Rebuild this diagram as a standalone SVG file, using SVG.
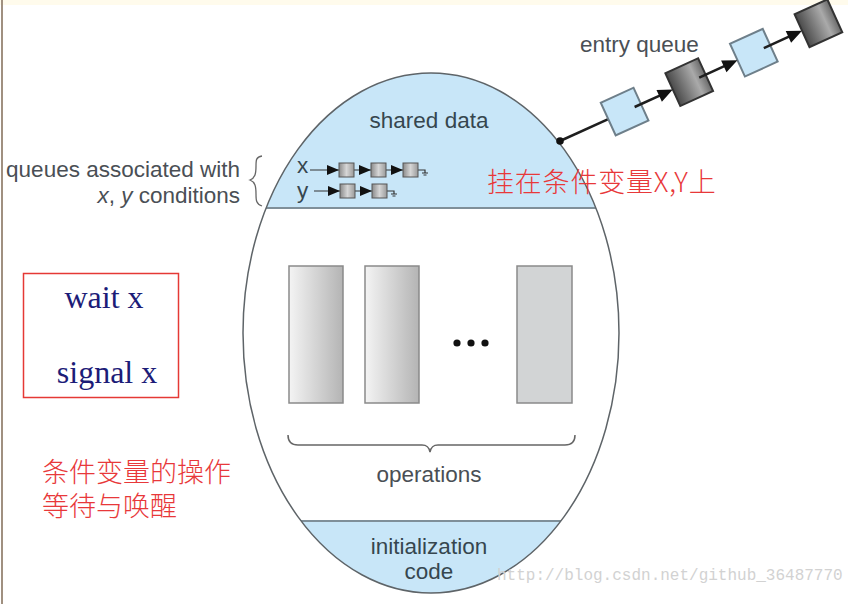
<svg xmlns="http://www.w3.org/2000/svg" width="848" height="604" viewBox="0 0 848 604">
<style>
.lbl{font-family:"Liberation Sans",Arial,sans-serif;font-size:22.5px;fill:#4a4f55}
.dk{fill:#36464f}
.red{font-family:"Noto Sans CJK SC",sans-serif;font-size:27px;font-weight:300;fill:#e8383a}
.ser{font-family:"Liberation Serif","Times New Roman",serif;font-size:32px;fill:#1c1c78}
.lq{fill:#c8e6f8;stroke:#6e7f8a;stroke-width:2}
.dq{fill:url(#gdark);stroke:#333;stroke-width:2}
.ln{stroke:#1e1e1e;stroke-width:2.5;fill:none}
.sq{fill:url(#gsmall);stroke:#555;stroke-width:1}
.sl{stroke:#333;stroke-width:1.2;fill:none}
.ah{fill:#111}
.op{stroke:#8a8a8a;stroke-width:1.5}
</style>
<defs>
<linearGradient id="gdark" x1="0" y1="0" x2="1" y2="0">
<stop offset="0" stop-color="#4a4a4a"/><stop offset="0.7" stop-color="#aaaaaa"/><stop offset="1" stop-color="#6a6a6a"/>
</linearGradient>
<linearGradient id="gsmall" x1="0" y1="0" x2="1" y2="0">
<stop offset="0" stop-color="#8a8a8a"/><stop offset="0.5" stop-color="#d6d6d6"/><stop offset="1" stop-color="#9a9a9a"/>
</linearGradient>
<linearGradient id="grect" x1="0" y1="0" x2="1" y2="0">
<stop offset="0" stop-color="#f4f4f4"/><stop offset="1" stop-color="#b4b4b4"/>
</linearGradient>
<clipPath id="egg"><ellipse cx="431" cy="333" rx="188" ry="260"/></clipPath>
</defs>
<rect x="0" y="0" width="848" height="604" fill="#ffffff"/>
<rect x="0" y="0" width="848" height="5" fill="#fffbec"/>
<line x1="2" y1="0" x2="2" y2="604" stroke="#a09080" stroke-width="2"/>

<g id="monitor">
<ellipse cx="431" cy="333" rx="188" ry="260" fill="#ffffff"/>
<g clip-path="url(#egg)">
<rect x="230" y="60" width="400" height="148" fill="#c8e6f8"/>
<rect x="230" y="521" width="400" height="90" fill="#c8e6f8"/>
<line x1="230" y1="208" x2="630" y2="208" stroke="#7f8f99" stroke-width="2"/>
<line x1="230" y1="521" x2="630" y2="521" stroke="#7f8f99" stroke-width="2"/>
</g>
<ellipse cx="431" cy="333" rx="188" ry="260" fill="none" stroke="#5e6468" stroke-width="1.5"/>
</g>

<g id="shared-data">
<text class="lbl dk" x="429" y="128" text-anchor="middle">shared data</text>
</g>

<g id="condition-queues">
<text class="lbl dk" x="297" y="173" font-size="21">x</text>
<text class="lbl dk" x="297" y="198" font-size="21">y</text>
<path class="sl" d="M310 170 H339 M354 170 H371 M386 170 H403 M418 170 H425 V173 M422 173 H428 M423.5 175 H426.5"/>
<path class="ah" d="M327 165 L339 170 L327 175 Z M359 165 L371 170 L359 175 Z M391 165 L403 170 L391 175 Z"/>
<rect class="sq" x="339" y="163" width="15" height="14"/>
<rect class="sq" x="371" y="163" width="15" height="14"/>
<rect class="sq" x="403" y="163" width="15" height="14"/>
<path class="sl" d="M314 191 H340 M355 191 H372 M387 191 H394 V194 M391 194 H397 M392.5 196 H395.5"/>
<path class="ah" d="M328 186 L340 191 L328 196 Z M360 186 L372 191 L360 196 Z"/>
<rect class="sq" x="340" y="184" width="15" height="14"/>
<rect class="sq" x="372" y="184" width="15" height="14"/>
</g>

<g id="queues-label">
<text class="lbl" x="240" y="177" text-anchor="end" font-size="22.8">queues associated with</text>
<text class="lbl" x="240" y="203" text-anchor="end" font-size="22.8"><tspan font-style="italic">x</tspan>, <tspan font-style="italic">y</tspan> conditions</text>
<path d="M262 156 C256 157 256 160 256 166 C256 174 255 178 250 180 C255 182 256 186 256 194 C256 200 256 204 262 206" fill="none" stroke="#666" stroke-width="1.3"/>
</g>

<g id="operations">
<rect class="op" x="289" y="266" width="54" height="137" fill="url(#grect)"/>
<rect class="op" x="365" y="266" width="54" height="137" fill="url(#grect)"/>
<rect class="op" x="517" y="266" width="55" height="137" fill="#d2d4d5"/>
<circle cx="457" cy="343" r="3.6" fill="#111"/>
<circle cx="471" cy="343" r="3.6" fill="#111"/>
<circle cx="485" cy="343" r="3.6" fill="#111"/>
<path d="M288 435 C288 442 291 445 298 445 H422 C427 445 429 447 430 452 C431 447 433 445 438 445 H565 C572 445 575 442 575 435" fill="none" stroke="#666" stroke-width="1.5"/>
<text class="lbl" x="429" y="482" text-anchor="middle" fill="#555">operations</text>
</g>

<g id="init-code">
<text class="lbl dk" x="429" y="554" text-anchor="middle">initialization</text>
<text class="lbl dk" x="429" y="579" text-anchor="middle">code</text>
</g>

<g id="entry-queue">
<text class="lbl" x="580" y="52" fill="#444">entry queue</text>
<g transform="translate(560,141) rotate(-24.5)">
<line class="ln" x1="0" y1="0" x2="53" y2="0"/>
<rect class="lq" x="53" y="-18" width="36" height="36"/>
<rect class="dq" x="124" y="-18" width="36" height="36"/>
<rect class="lq" x="195" y="-18" width="36" height="36"/>
<rect class="dq" x="266" y="-18" width="36" height="36"/>
<line class="ln" x1="82" y1="0" x2="112" y2="0"/>
<line class="ln" x1="153" y1="0" x2="183" y2="0"/>
<line class="ln" x1="224" y1="0" x2="254" y2="0"/>
<path class="ah" d="M109 -6.5 L124 0 L109 6.5 Z M180 -6.5 L195 0 L180 6.5 Z M251 -6.5 L266 0 L251 6.5 Z"/>
</g>
<circle cx="560" cy="141" r="3.8" fill="#111"/>
</g>

<g id="note-xy">
<text class="red" x="487" y="192" letter-spacing="0.8">挂在条件变量X,Y上</text>
</g>

<g id="ops-box">
<rect x="23.5" y="273.5" width="155" height="124" fill="none" stroke="#e53935" stroke-width="1.5"/>
<text class="ser" x="104" y="308" text-anchor="middle">wait x</text>
<text class="ser" x="107" y="383" text-anchor="middle">signal x</text>
</g>

<g id="note-ops">
<text class="red" x="42" y="482">条件变量的操作<tspan x="42" dy="34">等待与唤醒</tspan></text>
</g>

<text x="497" y="580" font-family="Liberation Mono,monospace" font-size="16" fill="#d2d2d2">http://blog.csdn.net/github_36487770</text>
</svg>
